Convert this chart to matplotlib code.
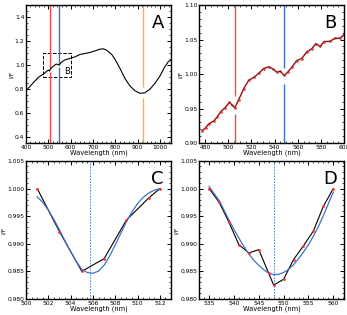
import matplotlib
matplotlib.use("Agg")
import matplotlib.pyplot as plt
from matplotlib.ticker import MultipleLocator, FormatStrFormatter
from matplotlib.patches import Rectangle

# ---- panel A: full spectrum ----
wl_a = [400, 433, 455, 478, 500, 505, 510, 522, 535, 545, 548, 556, 572, 597, 619,
        642, 664, 687, 709, 731, 746, 761, 784, 799, 821, 843, 866, 888, 910, 925,
        933, 955, 978, 1000, 1022, 1037, 1049]
if_a = [0.785, 0.853, 0.897, 0.925, 0.958, 0.950, 0.968, 0.991, 1.008, 1.003, 0.998,
        1.019, 1.041, 1.055, 1.068, 1.088, 1.096, 1.105, 1.118, 1.132, 1.135, 1.124,
        1.088, 1.047, 0.972, 0.889, 0.825, 0.786, 0.765, 0.767, 0.770, 0.798, 0.848,
        0.908, 0.985, 1.027, 1.041]

# ---- panel B: zoom 475-600 nm ----
wl_b = [477.7, 480.5, 483.4, 487.7, 490.6, 493.4, 497.2, 501.1, 503.4, 505.7, 509.1,
        513.5, 517.7, 522.0, 526.3, 530.6, 534.9, 538.3, 542.0, 544.8, 548.3, 551.5,
        554.9, 559.1, 563.4, 567.7, 572.0, 575.5, 579.2, 582.6, 587.8, 592.1, 596.4,
        600.7]
if_b = [0.918, 0.922, 0.928, 0.932, 0.938, 0.945, 0.951, 0.959, 0.955, 0.951, 0.963,
        0.979, 0.991, 0.995, 1.001, 1.008, 1.0105, 1.0076, 1.0027, 1.004, 0.998, 1.003,
        1.010, 1.0196, 1.0225, 1.032, 1.0365, 1.044, 1.040, 1.047, 1.0475, 1.052, 1.052,
        1.058]

# ---- panel C: 505 nm band ----
wl_c = [501, 503, 505, 507, 509, 511, 512]
if_c = [1.000, 0.9922, 0.9850, 0.9873, 0.9943, 0.9983, 1.000]
fit_wl_c = [501, 501.5, 502, 502.5, 503, 503.5, 504, 504.5, 505, 505.5, 506, 506.5,
            507, 507.5, 508, 508.5, 509, 509.5, 510, 510.5, 511, 511.5, 512]
fit_if_c = [0.9985, 0.9975, 0.9961, 0.9944, 0.9925, 0.9905, 0.9886, 0.9868, 0.98536,
            0.98477, 0.98464, 0.98505, 0.9861, 0.9878, 0.9898, 0.9919, 0.9940, 0.9958,
            0.9973, 0.9984, 0.9992, 0.9997, 1.0000]
center_c = 505.7

# ---- panel D: 548 nm band ----
wl_d = [535, 537, 539, 541, 543, 545, 547, 548, 550, 552, 554, 556, 558, 560]
if_d = [1.000, 0.99755, 0.99388, 0.98982, 0.98834, 0.98893, 0.98464, 0.9825,
        0.98357, 0.98714, 0.98964, 0.99232, 0.99679, 1.000]
fit_wl_d = [535, 536, 537, 538, 539, 540, 541, 542, 543, 544, 545, 546, 547, 548, 549,
            550, 551, 552, 553, 554, 555, 556, 557, 558, 559, 560]
fit_if_d = [1.0004, 0.9991, 0.99786, 0.9961, 0.99429, 0.9926, 0.99101, 0.9895,
            0.98816, 0.9870, 0.98607, 0.9853, 0.98464, 0.98440, 0.98446, 0.9848,
            0.98536, 0.9862, 0.98726, 0.9885, 0.98982, 0.9914, 0.99309, 0.9951,
            0.99726, 0.99934]
center_d = 548.0

# band markers: (wavelength, gap low, gap high, colour)
RED = "#f24a4a"
BLUE = "#3f72c6"
ORANGE = "#ffae3a"
bands = [(505.8, 0.942, 0.968, RED), (548.0, 0.985, 1.009, BLUE),
         (925.0, 0.722, 0.820, ORANGE)]

plt.rcParams["font.family"] = "DejaVu Sans"

fig = plt.figure(figsize=(3.47, 3.15), dpi=100)
w = 0.418
axA = fig.add_axes([0.075, 0.546, w, 0.438])
axB = fig.add_axes([0.574, 0.546, w, 0.438])
axC = fig.add_axes([0.075, 0.051, w, 0.438])
axD = fig.add_axes([0.574, 0.051, w, 0.438])


def style(ax, xmaj, xmin, ymaj, ymin, letter):
    ax.xaxis.set_major_locator(MultipleLocator(xmaj))
    ax.xaxis.set_minor_locator(MultipleLocator(xmin))
    ax.yaxis.set_major_locator(MultipleLocator(ymaj))
    ax.yaxis.set_minor_locator(MultipleLocator(ymin))
    ax.tick_params(which="both", direction="in", top=True, right=True,
                   labelsize=4.3, pad=1.2)
    ax.tick_params(which="major", length=3, width=0.7)
    ax.tick_params(which="minor", length=1.5, width=0.5)
    for s in ax.spines.values():
        s.set_linewidth(1.0)
    ax.set_xlabel("Wavelength (nm)", fontsize=4.8, labelpad=0.2)
    ax.set_ylabel("I/F", fontsize=4.3, labelpad=0.8)
    ax.text(0.95, 0.87, letter, transform=ax.transAxes, fontsize=13,
            ha="right", va="center")


def band_lines(ax, ylo, yhi, xs):
    for wl, g0, g1, c in bands:
        if xs[0] < wl < xs[1]:
            ax.vlines(wl, ylo, g0, color=c, lw=1.0)
            ax.vlines(wl, g1, yhi, color=c, lw=1.0)


# A
band_lines(axA, 0.35, 1.5, (400, 1050))
axA.plot(wl_a, if_a, color="black", lw=0.8)
axA.add_patch(Rectangle((475, 0.9), 125, 0.2, fill=False, ls="--", lw=0.7,
                        color="black"))
axA.text(572, 0.945, "B", fontsize=6, va="center")
axA.set_xlim(400, 1050)
axA.set_ylim(0.35, 1.5)
style(axA, 100, 20, 0.2, 0.05, "A")

# B
band_lines(axB, 0.90, 1.10, (475, 600))
axB.plot(wl_b, if_b, color=RED, lw=1.2, marker="o", ms=1, zorder=2)
axB.plot(wl_b, if_b, color="black", lw=0.35, zorder=3)
axB.set_xlim(475, 600)
axB.set_ylim(0.90, 1.10)
style(axB, 20, 5, 0.05, 0.01, "B")

# C
axC.axvline(center_c, color=BLUE, ls="--", lw=0.6, dashes=(2, 1.5))
axC.plot(wl_c, if_c, color="black", lw=0.8)
axC.plot(fit_wl_c, fit_if_c, color=BLUE, lw=0.9)
axC.plot(wl_c, if_c, "o", color="#ff3030", ms=2, mec="none")
axC.set_xlim(500, 513)
axC.set_ylim(0.980, 1.005)
style(axC, 2, 0.5, 0.005, 0.001, "C")
axC.yaxis.set_major_formatter(FormatStrFormatter("%.3f"))

# D
axD.axvline(center_d, color=BLUE, ls="--", lw=0.6, dashes=(2, 1.5))
axD.plot(wl_d, if_d, color="black", lw=0.8)
axD.plot(fit_wl_d, fit_if_d, color=BLUE, lw=0.9)
axD.plot(wl_d, if_d, "o", color="#ff3030", ms=2, mec="none")
axD.set_xlim(533, 562.2)
axD.set_ylim(0.980, 1.005)
style(axD, 5, 1, 0.005, 0.001, "D")
axD.yaxis.set_major_formatter(FormatStrFormatter("%.3f"))

fig.savefig("out.png", dpi=100)
